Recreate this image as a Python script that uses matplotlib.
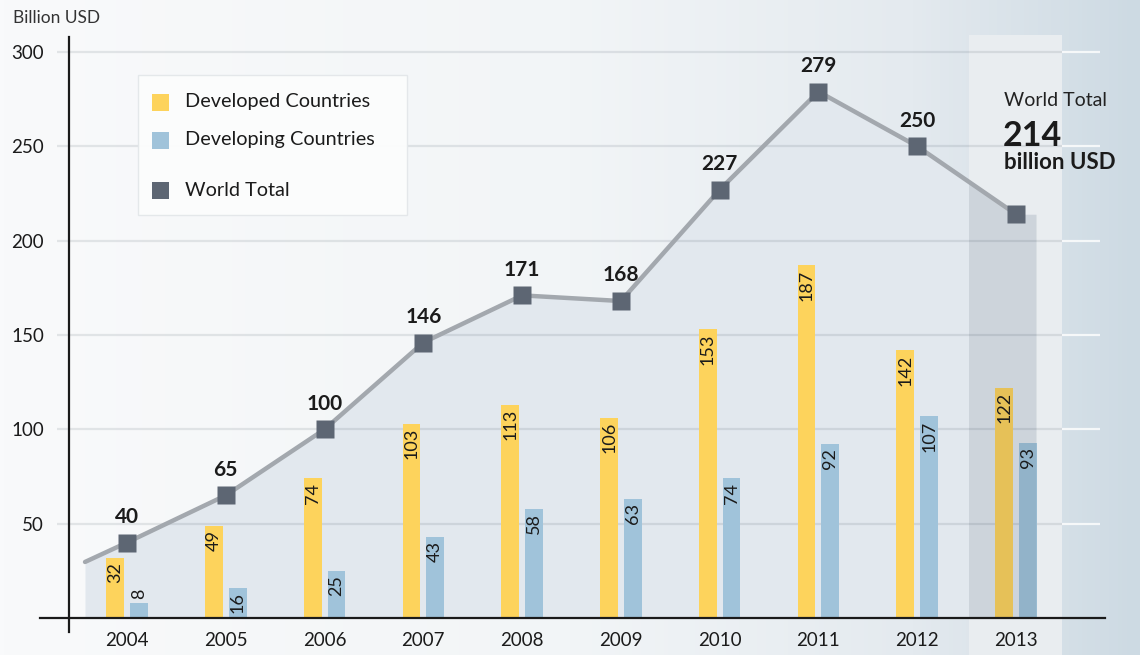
import numpy as np
import matplotlib.pyplot as plt
from matplotlib.colors import LinearSegmentedColormap
from matplotlib.patches import Rectangle

plt.rcParams['font.family'] = ['Lato', 'DejaVu Sans']

years = [2004, 2005, 2006, 2007, 2008, 2009, 2010, 2011, 2012, 2013]
developed = [32, 49, 74, 103, 113, 106, 153, 187, 142, 122]
developing = [8, 16, 25, 43, 58, 63, 74, 92, 107, 93]
world = [40, 65, 100, 146, 171, 168, 227, 279, 250, 214]
# short lead-in of the total line before the first year
lead_in_year = 2003.575
lead_in_value = 29.7
yticks = [50, 100, 150, 200, 250, 300]

YELLOW = '#fdd35c'
BLUE = '#a0c3da'
LINE = '#a3a8ae'
MARKER = '#5d6673'
FILL = '#e2e8ee'
TXT = '#1b1b1b'

fig = plt.figure(figsize=(11.4, 6.55), dpi=100)

# soft left-to-right background gradient
bg = fig.add_axes([0, 0, 1, 1], zorder=-10)
cmap = LinearSegmentedColormap.from_list(
    'bg', [(0, '#f9fafb'), (0.5, '#f2f5f7'), (0.8, '#e4eaef'), (1, '#cddae3')])
bg.imshow(np.linspace(0, 1, 256)[None, :], aspect='auto', cmap=cmap,
          extent=[0, 1, 0, 1])
bg.axis('off')

W, H = 1140, 655
px_year = 98.78
px_unit = 1.8867
x0_px, y0_px = 127, 618   # pixel position of (2004, 0)


def xd(px):
    return 2004 + (px - x0_px) / px_year


def yd(py):
    return (y0_px - py) / px_unit


left_px, right_px, top_px = 69, 1105, 37
ax = fig.add_axes([left_px / W, (H - y0_px) / H,
                   (right_px - left_px) / W, (y0_px - top_px) / H])
ax.set_xlim(xd(left_px), xd(right_px))
ax.set_ylim(0, yd(top_px))
ax.patch.set_visible(False)
for s in ax.spines.values():
    s.set_visible(False)

# highlighted final year column
hl = Rectangle((xd(969), yd(H + 5)), xd(1062) - xd(969), yd(35) - yd(H + 5),
               facecolor='#e9edf0', edgecolor='none', zorder=0.5, clip_on=False)
ax.add_patch(hl)

# area under the world total line
fx = [lead_in_year] + years + [xd(1036)]
fy = [lead_in_value] + world + [world[-1]]
ax.fill_between(fx, fy, 0, color=FILL, lw=0, zorder=1)

# grid lines: dark through the chart, white past the highlight column
ax.hlines(yticks, xd(57), xd(1062), colors='#2a3a4a', alpha=0.11, lw=1.6,
          zorder=1.5, clip_on=False)
ax.hlines(yticks, xd(1062), xd(1100), colors='white', alpha=0.8, lw=1.6,
          zorder=1.5, clip_on=False)

yrs = np.array(years)
bw = 0.18
b1 = ax.bar(yrs - 0.12, developed, bw, color=YELLOW, zorder=2)
b2 = ax.bar(yrs + 0.12, developing, bw, color=BLUE, zorder=2)

# darker tone where the area meets the highlight column
ov = ax.fill_between(fx, fy, 0, color='#1c2c3c', alpha=0.1, lw=0, zorder=2.5)
ov.set_clip_path(hl)

for rect, v in zip(list(b1) + list(b2), developed + developing):
    cx = rect.get_x() + rect.get_width() / 2
    if v < 15:
        ax.annotate(str(v), (cx, v), xytext=(0, 3), textcoords='offset points',
                    rotation=90, ha='center', va='bottom', fontsize=13,
                    color=TXT, zorder=5)
    else:
        ax.annotate(str(v), (cx, v), xytext=(0, -3), textcoords='offset points',
                    rotation=90, ha='center', va='top', fontsize=13,
                    color=TXT, zorder=5)

ax.plot([lead_in_year] + years, [lead_in_value] + world, color=LINE, lw=3.2,
        solid_capstyle='round', zorder=3)
ax.plot(years, world, 's', color=MARKER, ms=13.5, mec='none', zorder=4)
for x, v in zip(years[:-1], world[:-1]):
    ax.annotate(str(v), (x, v), xytext=(0, 18.5), textcoords='offset points',
                ha='center', va='center', fontsize=15, fontweight='bold',
                color=TXT, zorder=5)

# axis lines
ax.plot([xd(40), xd(right_px)], [0, 0], color='#1a1a1a', lw=1.6,
        clip_on=False, zorder=6)
ax.plot([xd(left_px)] * 2, [yd(632), yd(top_px)], color='#1a1a1a', lw=1.6,
        clip_on=False, zorder=6)

ax.set_xticks(years)
ax.set_xticklabels([str(y) for y in years], fontsize=13.5, color=TXT)
ax.set_yticks(yticks)
ax.set_yticklabels([str(t) for t in yticks], fontsize=13.5, color=TXT)
ax.tick_params(axis='x', length=0, pad=10)
ax.tick_params(axis='y', length=0, pad=18)

fig.text(13 / W, 1 - 18 / H, 'Billion USD', fontsize=12.5, color='#333333',
         va='center', ha='left')

# legend panel
fig.patches.append(Rectangle((138 / W, 1 - 215 / H), 269 / W, 140 / H,
                             transform=fig.transFigure, facecolor='#fcfdfd',
                             edgecolor='#e3e7ea', lw=1, alpha=0.95, zorder=7))
legend_items = [(YELLOW, 'Developed Countries', 102),
                (BLUE, 'Developing Countries', 140),
                (MARKER, 'World Total', 190)]
for col, label, py in legend_items:
    fig.patches.append(Rectangle((152 / W, 1 - (py + 8.5) / H), 17 / W, 17 / H,
                                 transform=fig.transFigure, facecolor=col,
                                 edgecolor='none', zorder=8))
    fig.text(185 / W, 1 - py / H, label, fontsize=14.3, color=TXT,
             va='center', ha='left', zorder=8)

# world total callout
fig.text(1004 / W, 1 - 101 / H, 'World Total', fontsize=14, color='#222222',
         va='center', ha='left')
fig.text(1003 / W, 1 - 136 / H, str(world[-1]), fontsize=24.5, fontweight='bold',
         color=TXT, va='center', ha='left')
fig.text(1004 / W, 1 - 163 / H, 'billion USD', fontsize=16, fontweight='bold',
         color=TXT, va='center', ha='left')

fig.savefig('out.png', dpi=100)
